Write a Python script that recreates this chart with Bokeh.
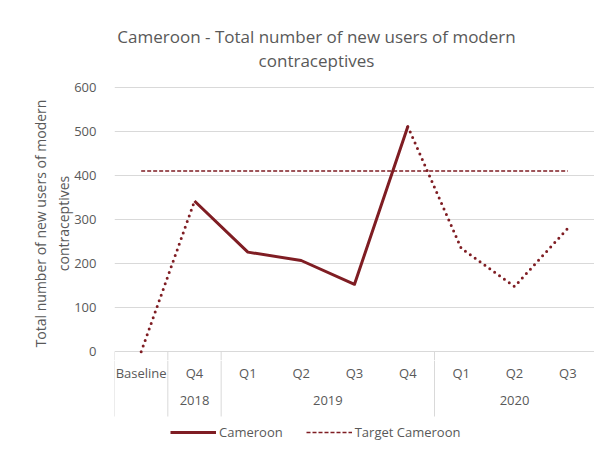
from bokeh.plotting import figure
from bokeh.models import Range1d, FixedTicker, Legend, LegendItem
from bokeh.layouts import column
from bokeh.core.properties import value
from bokeh.embed import file_html
from bokeh.resources import INLINE

# ---- data ----
quarters = ["Baseline", "Q4", "Q1", "Q2", "Q3", "Q4", "Q1", "Q2", "Q3"]
year_labels = ["2018", "2019", "2020"]
year_first = [1, 2, 6]      # first quarter index of each year group
year_last = [1, 5, 8]       # last quarter index of each year group
cameroon = [0, 342, 226, 207, 153, 511, 235, 148, 280]
target = [410, 410, 410, 410, 410, 410, 410, 410, 410]
y_ticks = [0, 100, 200, 300, 400, 500, 600]
solid_from, solid_to = 1, 5   # reported quarters drawn solid
title_lines = ["Cameroon - Total number of new users of modern", "contraceptives"]

FONT = "Open Sans"
GREY = "#595959"
RED = "#7f1d23"
GRID = "#d9d9d9"

idx = list(range(len(quarters)))
W = 594
LEFT = 114

# ---- title strip (x in page pixels) ----
p0 = figure(width=W, height=78, output_backend="svg", toolbar_location=None,
            x_range=Range1d(LEFT, W), y_range=Range1d(-78, 0),
            x_axis_location=None, y_axis_location=None, min_border=0,
            min_border_left=LEFT)
p0.outline_line_color = None
p0.grid.visible = False
p0.text(x=[316, 316], y=[-36, -60], text=title_lines, text_align="center",
        text_baseline="alphabetic", text_font=value(FONT), text_font_size="17px",
        text_color=GREY)

# ---- main plot ----
p1 = figure(width=W, height=282, output_backend="svg", toolbar_location=None,
            x_range=Range1d(-0.5, len(quarters) - 0.5), y_range=Range1d(-20, 602),
            x_axis_location=None, min_border_top=8, min_border_bottom=0,
            min_border_left=LEFT, min_border_right=0)
p1.outline_line_color = None
p1.xgrid.visible = False
p1.ygrid.ticker = FixedTicker(ticks=y_ticks)
p1.ygrid.grid_line_color = GRID
p1.yaxis.ticker = FixedTicker(ticks=y_ticks)
p1.yaxis.axis_line_color = None
p1.yaxis.major_tick_line_color = None
p1.yaxis.minor_tick_line_color = None
p1.yaxis.major_label_text_font = FONT
p1.yaxis.major_label_text_font_size = "13px"
p1.yaxis.major_label_text_color = GREY
p1.yaxis.major_label_standoff = 12
p1.yaxis.axis_label = "Total number of new users of modern\ncontraceptives"
p1.yaxis.axis_label_text_font = FONT
p1.yaxis.axis_label_text_font_size = "14px"
p1.yaxis.axis_label_text_font_style = "normal"
p1.yaxis.axis_label_text_color = GREY
p1.yaxis.axis_label_standoff = -2

bounds = [-0.5, 0.5] + [f - 0.5 for f in year_first[1:]] + [len(quarters) - 0.5]
p1.segment(x0=bounds, y0=[0] * len(bounds), x1=bounds, y1=[-20] * len(bounds),
           line_color=GRID, line_width=1)

# target
p1.line(idx, target, line_color=RED, line_width=1.5, line_dash="4 2")
# dotted projected parts
p1.line(idx[:solid_from + 1], cameroon[:solid_from + 1], line_color=RED, line_width=3,
        line_dash="0 6", line_cap="round")
p1.line(idx[solid_to:], cameroon[solid_to:], line_color=RED, line_width=3,
        line_dash="0 6", line_cap="round")
# solid reported part
p1.line(idx[solid_from:solid_to + 1], cameroon[solid_from:solid_to + 1],
        line_color=RED, line_width=3, line_join="round")

# ---- category table + legend ----
p2 = figure(width=W, height=86, output_backend="svg", toolbar_location=None,
            x_range=p1.x_range, y_range=Range1d(-86, 0),
            x_axis_location=None, y_axis_location=None,
            min_border_top=0, min_border_bottom=0, min_border_left=LEFT, min_border_right=0)
p2.outline_line_color = None
p2.grid.visible = False

p2.segment(x0=bounds, y0=[0] * len(bounds), x1=bounds, y1=[-56] * len(bounds),
           line_color=GRID, line_width=1)
p2.text(x=idx, y=[-12] * len(idx), text=quarters, text_align="center",
        text_baseline="middle", text_font=value(FONT), text_font_size="13px", text_color=GREY)
p2.text(x=[(a + b) / 2 for a, b in zip(year_first, year_last)], y=[-40] * len(year_labels),
        text=year_labels, text_align="center", text_baseline="middle",
        text_font=value(FONT), text_font_size="13px", text_color=GREY)

# legend proxies (data lies outside this strip's range, so only the legend shows)
r_c = p2.line(idx[solid_from:solid_to + 1], cameroon[solid_from:solid_to + 1],
              line_color=RED, line_width=3)
r_t = p2.line(idx, target, line_color=RED, line_width=1.5, line_dash="4 2")
legend = Legend(items=[LegendItem(label="Cameroon", renderers=[r_c]),
                       LegendItem(label="Target Cameroon", renderers=[r_t])],
                orientation="horizontal", location=(56, 5), padding=0, margin=0,
                spacing=23, label_standoff=3, glyph_width=46, glyph_height=16,
                label_height=16, label_text_font=FONT, label_text_font_size="13px",
                label_text_color=GREY, border_line_color=None, background_fill_alpha=0)
p2.add_layout(legend)

layout = column(p0, p1, p2, spacing=0)
open("out.html", "w").write(file_html(layout, INLINE))
